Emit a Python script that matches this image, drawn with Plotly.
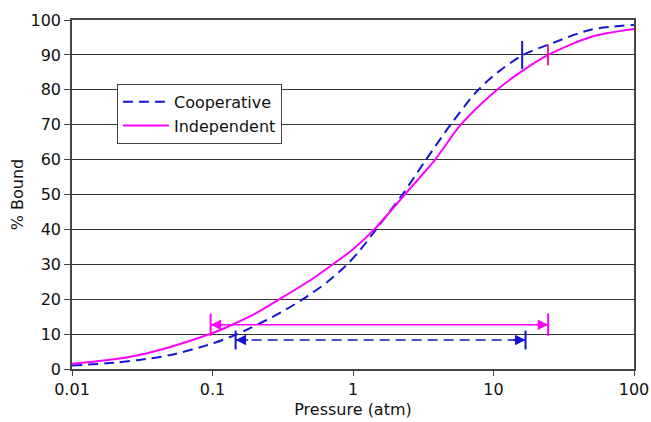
import numpy as np
import plotly.graph_objects as go

# Data
coop_p = [0.01, 0.02, 0.03, 0.05, 0.1, 0.146, 0.185, 0.3, 0.44, 0.65, 0.9, 1.12, 1.49, 2.25, 3.31, 4.95, 7.59, 10.7, 16.3, 25.2, 50, 100]
coop_y = [1.0, 1.8, 2.6, 4.0, 7.3, 9.8, 11.7, 16.0, 20.0, 24.8, 29.8, 34.0, 40.5, 50.0, 60.0, 70.0, 79.5, 85.0, 90.0, 93.1, 97.3, 98.6]
ind_p = [0.01, 0.02, 0.03, 0.05, 0.1, 0.133, 0.2, 0.3, 0.5, 0.72, 1.0, 1.44, 2.34, 3.84, 5.85, 10.6, 15.5, 24.5, 50, 100]
ind_y = [1.5, 2.8, 4.0, 6.3, 10.3, 12.4, 15.8, 20.0, 25.5, 30.0, 34.3, 40.3, 50.0, 60.0, 70.0, 80.0, 85.0, 90.0, 95.2, 97.4]

# 10%-90% ranges (pressure) and the level where each range arrow sits
coop_range = [0.146, 16.9]
ind_range = [0.097, 24.5]
coop_arrow_level = 8.3
ind_arrow_level = 12.7
coop_bar_half = 2.7
ind_bar_half = 3.2
# 90% markers
coop_p90 = 16.0
ind_p90 = 24.4
p90_level = 90
p90_half = 4.0

BLUE = "#1414D2"
PINK = "#FF00FF"
DPINK = "#E8208F"
FONT = "DejaVu Sans"

fig = go.Figure()
fig.add_trace(go.Scatter(x=coop_p, y=coop_y, mode="lines", name="Cooperative",
                         line=dict(color=BLUE, width=2, dash="10px,6px", shape="spline", smoothing=0.8)))
fig.add_trace(go.Scatter(x=ind_p, y=ind_y, mode="lines", name="Independent",
                         line=dict(color=PINK, width=2, shape="spline", smoothing=0.8)))

# range lines
fig.add_trace(go.Scatter(x=ind_range, y=[ind_arrow_level] * 2, mode="lines", showlegend=False,
                         line=dict(color=PINK, width=1.5)))
fig.add_trace(go.Scatter(x=coop_range, y=[coop_arrow_level] * 2, mode="lines", showlegend=False,
                         line=dict(color=BLUE, width=1.5, dash="10px,6px")))
# end bars
for xs, lvl, half, col in [(ind_range, ind_arrow_level, ind_bar_half, PINK),
                           (coop_range, coop_arrow_level, coop_bar_half, BLUE)]:
    for xv in xs:
        fig.add_trace(go.Scatter(x=[xv, xv], y=[lvl - half, lvl + half], mode="lines",
                                 showlegend=False, line=dict(color=col, width=2)))
# 90% markers
fig.add_trace(go.Scatter(x=[coop_p90, coop_p90], y=[p90_level - p90_half, p90_level + p90_half],
                         mode="lines", showlegend=False, line=dict(color=BLUE, width=2)))
fig.add_trace(go.Scatter(x=[ind_p90, ind_p90], y=[p90_level - p90_half + 1, p90_level + p90_half - 1],
                         mode="lines", showlegend=False, line=dict(color=DPINK, width=2)))

# arrowheads
for xs, lvl, col in [(ind_range, ind_arrow_level, PINK), (coop_range, coop_arrow_level, BLUE)]:
    fig.add_annotation(x=np.log10(xs[0]), y=lvl, ax=14, ay=0, axref="pixel", ayref="pixel",
                       showarrow=True, arrowhead=2, arrowsize=1.4, arrowwidth=1.5, arrowcolor=col,
                       standoff=0, text="")
    fig.add_annotation(x=np.log10(xs[1]), y=lvl, ax=-14, ay=0, axref="pixel", ayref="pixel",
                       showarrow=True, arrowhead=2, arrowsize=1.4, arrowwidth=1.5, arrowcolor=col,
                       standoff=0, text="")

fig.update_layout(
    width=651, height=422,
    margin=dict(l=72, r=17, t=20, b=53, autoexpand=False),
    paper_bgcolor="white", plot_bgcolor="white",
    font=dict(family=FONT, size=16, color="#111"),
    showlegend=True,
    legend=dict(x=0.08, y=0.817, xanchor="left", yanchor="top",
                bgcolor="white", bordercolor="#444", borderwidth=1,
                font=dict(family=FONT, size=16, color="#111"),
                tracegroupgap=0, itemwidth=46),
    xaxis=dict(type="log", range=[-2, 2], tickvals=[0.01, 0.1, 1, 10, 100],
               ticktext=["0.01", "0.1", "1", "10", "100"], automargin=False,
               showgrid=False, zeroline=False, showline=True, linecolor="#444", linewidth=1.5,
               mirror=True, ticks="outside", ticklen=5, tickcolor="#444",
               title=dict(text="Pressure (atm)", font=dict(size=16), standoff=6)),
    yaxis=dict(range=[0, 100], tickvals=list(range(0, 101, 10)), automargin=False,
               showgrid=True, gridcolor="#333", gridwidth=1, zeroline=False,
               showline=True, linecolor="#444", linewidth=1.5, mirror=True,
               ticks="outside", ticklen=6, tickcolor="#444",
               title=dict(text="% Bound", font=dict(size=16), standoff=3)),
)

# remove the browser's default 8px body margin so the figure fills the window exactly
fig.write_html("out.html", config={"displayModeBar": False},
               post_script="document.body.style.margin='0';")
